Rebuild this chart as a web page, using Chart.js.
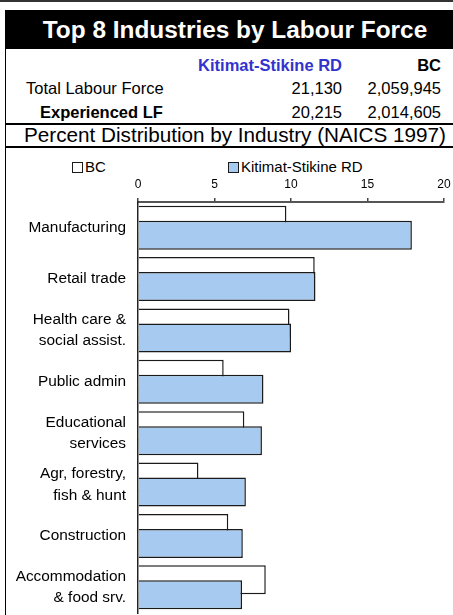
<!DOCTYPE html>
<html>
<head>
<meta charset="utf-8">
<script src="https://cdn.jsdelivr.net/npm/chart.js@4.4.1/dist/chart.umd.min.js"></script>
<style>
  body { margin: 0; width: 453px; height: 615px; overflow: hidden; position: relative; background: #fff;
         font-family: "Liberation Sans", Arial, sans-serif; color: #000; }
  .topline { position: absolute; left: 0; top: 0; width: 453px; height: 2px; background: #333; }
  .frame { position: absolute; left: 5px; top: 10px; width: 470px; height: 620px; border-left: 1.5px solid #000; }
  .title { position: absolute; left: 5px; top: 10px; width: 460px; height: 39px; background: #000; color: #fff;
           font-weight: bold; font-size: 24.4px; line-height: 40px; text-align: center; white-space: nowrap; }
  .cell { position: absolute; font-size: 16.5px; line-height: 20px; white-space: nowrap; }
  .num { text-align: right; }
  .bold { font-weight: bold; }
  .rule { position: absolute; left: 5px; width: 460px; height: 1.5px; background: #000; }
  .subtitle { position: absolute; left: 5px; top: 123px; width: 460px; text-align: center; font-size: 20.7px; line-height: 24px; white-space: nowrap; }
  #legend { position: absolute; left: 0; top: 159px; width: 453px; height: 16px; }
  .legend-item { position: absolute; top: 0; font-size: 15px; line-height: 16px; white-space: nowrap; }
  .legend-item i { display: inline-block; box-sizing: border-box; width: 11px; height: 11px; border: 1.5px solid #222;
                   margin-right: 2px; vertical-align: -1px; }
  #chartBox { position: absolute; left: 6px; top: 148px; }
</style>
</head>
<body>
<div class="topline"></div>
<div class="frame"></div>
<div class="title">Top 8 Industries by Labour Force</div>
<div id="table"></div>
<div class="rule" style="top:123px"></div>
<div class="subtitle">Percent Distribution by Industry (NAICS 1997)</div>
<div class="rule" style="top:146px"></div>
<div id="legend"></div>
<div id="chartBox"><canvas id="chart" width="447" height="467"></canvas></div>
<script>
// summary table
const regionNames = ['Kitimat-Stikine RD', 'BC'];
const summaryLabels = ['Total Labour Force', 'Experienced LF'];
const kitimatCounts = ['21,130', '20,215'];
const bcCounts = ['2,059,945', '2,014,605'];

// chart data (percent of experienced labour force)
const industries = [
    'Manufacturing',
    'Retail trade',
    ['Health care &', 'social assist.'],
    'Public admin',
    ['Educational', 'services'],
    ['Agr, forestry,', 'fish & hunt'],
    'Construction',
    ['Accommodation', '& food srv.']
];
const bcShare = [9.7, 11.55, 9.9, 5.6, 6.95, 3.95, 5.9, 8.35];
const kitimatShare = [17.9, 11.6, 10.0, 8.2, 8.1, 7.05, 6.85, 6.8];
const xTicks = [0, 5, 10, 15, 20];

const font = '"Liberation Sans", Arial, sans-serif';

// table
const table = document.getElementById('table');
function cell(text, style, cls) {
    const d = document.createElement('div');
    d.className = 'cell ' + (cls || '');
    d.textContent = text;
    Object.assign(d.style, style);
    table.appendChild(d);
}
cell(regionNames[0], { top: '55px', right: '111px', color: '#3333cc' }, 'bold num');
cell(regionNames[1], { top: '55px', right: '12px' }, 'bold num');
summaryLabels.forEach((label, i) => {
    const top = (78 + i * 24) + 'px';
    cell(label, { top: top, left: i === 0 ? '26px' : '40px' }, i === 1 ? 'bold' : '');
    cell(kitimatCounts[i], { top: top, right: '111px' }, 'num');
    cell(bcCounts[i], { top: top, right: '12px' }, 'num');
});

// draw BC first so the Kitimat bars sit on top of them
const drawInOrder = {
    id: 'drawInOrder',
    beforeDatasetsDraw(chart) {
        chart.data.datasets.forEach((ds, i) => chart.getDatasetMeta(i).controller.draw());
        return false;
    }
};

const chart = new Chart(document.getElementById('chart').getContext('2d'), {
    type: 'bar',
    data: {
        labels: industries,
        datasets: [{
            label: 'BC',
            data: bcShare,
            backgroundColor: '#ffffff',
            borderColor: '#1a1a1a',
            borderWidth: 1.5
        }, {
            label: 'Kitimat-Stikine RD',
            data: kitimatShare,
            backgroundColor: '#a6caf0',
            borderColor: '#1a1a1a',
            borderWidth: 1.5
        }]
    },
    options: {
        indexAxis: 'y',
        responsive: false,
        animation: false,
        categoryPercentage: 0.584,
        barPercentage: 1.93,
        layout: { padding: { left: 0, right: 9, top: 0, bottom: 2 } },
        plugins: {
            legend: { display: false },
            tooltip: { enabled: false }
        },
        scales: {
            x: {
                position: 'top',
                min: xTicks[0],
                max: xTicks[xTicks.length - 1],
                afterFit: scale => {
                    scale.height = 54;
                    scale.paddingLeft = 0;
                    scale.paddingRight = 0;
                },
                afterBuildTicks: scale => { scale.ticks = xTicks.map(v => ({ value: v })); },
                ticks: { color: '#000', padding: 6, font: { family: font, size: 12 } },
                grid: { drawOnChartArea: false, drawTicks: true, tickLength: 4, color: '#444', lineWidth: 1.5 },
                border: { display: true, color: '#555', width: 2 }
            },
            y: {
                afterFit: scale => {
                    scale.width = 132;
                    scale.paddingTop = 0;
                    scale.paddingBottom = 0;
                },
                ticks: { color: '#000', padding: 12, font: { family: font, size: 15.4, lineHeight: 1.4 } },
                grid: { display: false, drawTicks: false },
                border: { display: true, color: '#222', width: 1.5 }
            }
        }
    },
    plugins: [drawInOrder]
});

// html legend built from the datasets
const legendLeft = [72, 228];
const legendEl = document.getElementById('legend');
chart.data.datasets.forEach((ds, i) => {
    const item = document.createElement('span');
    item.className = 'legend-item';
    item.style.left = legendLeft[i] + 'px';
    item.innerHTML = `<i style="background:${ds.backgroundColor};border-color:${ds.borderColor}"></i>${ds.label}`;
    legendEl.appendChild(item);
});
</script>
</body>
</html>
